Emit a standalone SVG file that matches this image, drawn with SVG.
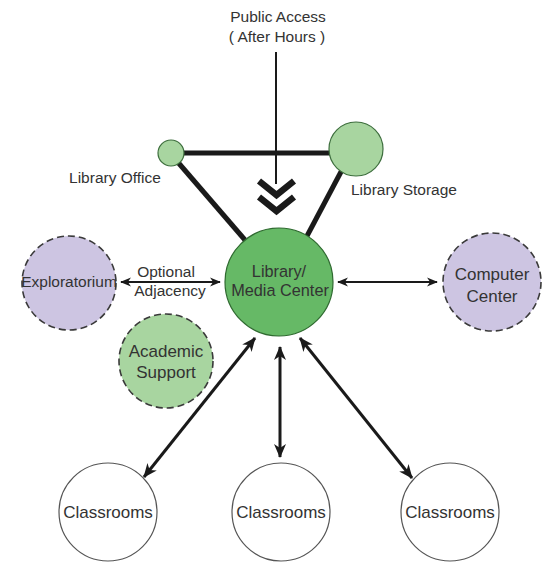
<svg xmlns="http://www.w3.org/2000/svg" width="542" height="563" viewBox="0 0 542 563">
<style>
  text { font-family: "Liberation Sans", Arial, sans-serif; fill: #333; text-anchor: middle; }
  .lbl { font-size: 15.5px; }
  .big { font-size: 17px; }
  .mid { font-size: 16.3px; }
  .main { fill: #66b966; stroke: #2f6a30; stroke-width: 1.2; }
  .lite { fill: #a8d5a0; stroke: #3d6e3d; stroke-width: 1.2; }
  .dashg { fill: #a8d5a0; stroke: #3a3a3a; stroke-width: 1.6; stroke-dasharray: 7 4; }
  .dashp { fill: #cdc5e2; stroke: #3a3a3a; stroke-width: 1.6; stroke-dasharray: 7 4; }
  .room { fill: #ffffff; stroke: #555; stroke-width: 1.2; }
  .thick { stroke: #1a1a1a; stroke-width: 5; fill: none; }
  .arr { stroke: #1a1a1a; stroke-width: 3; fill: none; marker-start: url(#ah); marker-end: url(#ah); }
  .arrs { stroke: #1a1a1a; stroke-width: 2.2; fill: none; marker-start: url(#ahs); marker-end: url(#ahs); }
</style>
<defs>
  <marker id="ah" viewBox="0 0 14 12" refX="13" refY="6" markerWidth="14" markerHeight="12" markerUnits="userSpaceOnUse" orient="auto-start-reverse">
    <path d="M0,0 L14,6 L0,12 L4,6 z" fill="#1a1a1a"/>
  </marker>
  <marker id="ahs" viewBox="0 0 12 10" refX="11" refY="5" markerWidth="11" markerHeight="10" markerUnits="userSpaceOnUse" orient="auto-start-reverse">
    <path d="M0,0 L12,5 L0,10 L3.5,5 z" fill="#1a1a1a"/>
  </marker>
</defs>

<g id="connectors">
  <line class="thick" x1="171" y1="153" x2="356" y2="153"/>
  <line class="thick" x1="176" y1="160" x2="245" y2="240"/>
  <line class="thick" x1="343" y1="168" x2="307" y2="236"/>
  <line x1="276" y1="52" x2="276" y2="184" stroke="#1a1a1a" stroke-width="2"/>
  <polyline points="259,181 276.5,195 294,181" fill="none" stroke="#1a1a1a" stroke-width="6.5"/>
  <polyline points="259,197 276.5,211 294,197" fill="none" stroke="#1a1a1a" stroke-width="6.5"/>
  <line class="arrs" x1="121" y1="282" x2="220" y2="282"/>
  <line class="arrs" x1="338" y1="282" x2="437" y2="282"/>
  <line class="arr" x1="144" y1="477" x2="255" y2="338"/>
  <line class="arr" x1="280" y1="347" x2="280" y2="457"/>
  <line class="arr" x1="300" y1="338" x2="412" y2="478"/>
</g>

<g id="public-access">
  <text class="lbl" x="278" y="22">Public Access</text>
  <text class="lbl" x="277" y="42">( After Hours )</text>
</g>

<g id="library-office">
  <circle class="lite" cx="171" cy="153" r="13"/>
  <text class="lbl" x="115" y="183">Library Office</text>
</g>

<g id="library-storage">
  <circle class="lite" cx="356" cy="149" r="27"/>
  <text class="lbl" x="404" y="195">Library Storage</text>
</g>

<g id="library-media-center">
  <circle class="main" cx="279" cy="282" r="54"/>
  <text class="mid" x="279" y="277">Library/</text>
  <text class="mid" x="280" y="296">Media Center</text>
</g>

<g id="exploratorium">
  <circle class="dashp" cx="69" cy="283" r="47"/>
  <text class="lbl" x="69" y="287">Exploratorium</text>
</g>

<g id="optional-adjacency">
  <text class="lbl" x="166" y="277">Optional</text>
  <text class="lbl" x="170" y="296">Adjacency</text>
</g>

<g id="academic-support">
  <circle class="dashg" cx="166" cy="361" r="47"/>
  <text class="big" x="166" y="357">Academic</text>
  <text class="big" x="166" y="378">Support</text>
</g>

<g id="computer-center">
  <circle class="dashp" cx="492" cy="282" r="49"/>
  <text class="big" x="492" y="280">Computer</text>
  <text class="big" x="492" y="302">Center</text>
</g>

<g id="classrooms-1">
  <circle class="room" cx="108" cy="512" r="49"/>
  <text class="big" x="108" y="518">Classrooms</text>
</g>
<g id="classrooms-2">
  <circle class="room" cx="281" cy="512" r="49"/>
  <text class="big" x="281" y="518">Classrooms</text>
</g>
<g id="classrooms-3">
  <circle class="room" cx="450" cy="512" r="49"/>
  <text class="big" x="450" y="518">Classrooms</text>
</g>
</svg>
